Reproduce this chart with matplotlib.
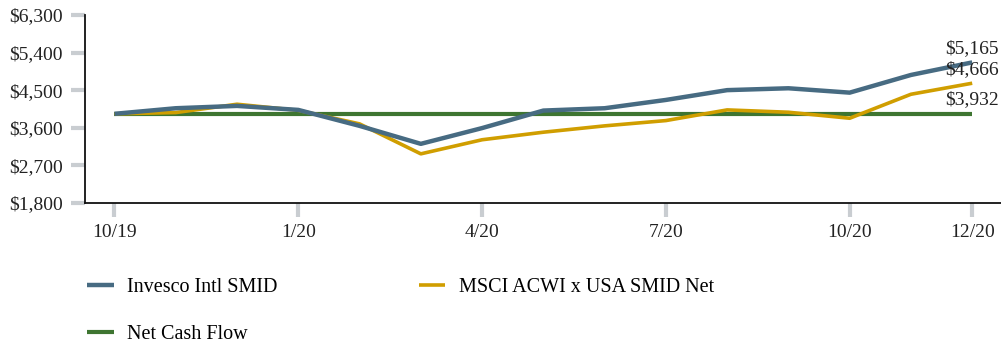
import matplotlib
matplotlib.use("Agg")
import matplotlib.pyplot as plt
from matplotlib.ticker import FuncFormatter

# Monthly values, 10/19 through 12/20
months = ["10/19", "11/19", "12/19", "1/20", "2/20", "3/20", "4/20", "5/20",
          "6/20", "7/20", "8/20", "9/20", "10/20", "11/20", "12/20"]
fund = [3932, 4066, 4122, 4026, 3643, 3212, 3590, 4010, 4066, 4265, 4500,
        4545, 4440, 4864, 5165]
index = [3932, 3962, 4162, 4015, 3691, 2972, 3310, 3491, 3643, 3770, 4026,
         3970, 3826, 4401, 4666]
cash = [3932] * 15

tick_months = ["10/19", "1/20", "4/20", "7/20", "10/20", "12/20"]
y_ticks = [1800, 2700, 3600, 4500, 5400, 6300]

series_names = ["Invesco Intl SMID", "MSCI ACWI x USA SMID Net", "Net Cash Flow"]
colors = {"fund": "#476b82", "index": "#d09e00", "cash": "#3e7531"}

plt.rcParams["font.family"] = ["Liberation Serif", "DejaVu Serif"]

fig = plt.figure(figsize=(10.01, 3.43), dpi=100)
ax = fig.add_axes([0.085, 0.409, 0.915, 0.547])

x = list(range(len(months)))
l_cash, = ax.plot(x, cash, color=colors["cash"], lw=3.0, label=series_names[2],
                  solid_capstyle="butt", zorder=2)
l_index, = ax.plot(x, index, color=colors["index"], lw=2.6, label=series_names[1],
                   solid_capstyle="butt", zorder=3)
l_fund, = ax.plot(x, fund, color=colors["fund"], lw=3.2, label=series_names[0],
                  solid_capstyle="butt", zorder=4)

# End-of-period value labels
for vals in (fund, index, cash):
    ax.annotate(f"${vals[-1]:,}", xy=(x[-1], vals[-1]), xytext=(0, 4),
                textcoords="offset points", ha="center", va="bottom",
                fontsize=14, color="#222222", zorder=5)

ax.set_xlim(-0.48, 14.47)
ax.set_ylim(1800, 6300)
ax.set_yticks(y_ticks)
ax.yaxis.set_major_formatter(FuncFormatter(lambda v, p: f"${v:,.0f}"))
ax.set_xticks([months.index(m) for m in tick_months])
ax.set_xticklabels(tick_months)

for side in ("top", "right"):
    ax.spines[side].set_visible(False)
for side in ("left", "bottom"):
    ax.spines[side].set_color("#111111")
    ax.spines[side].set_linewidth(1.3)

ax.tick_params(axis="both", which="major", length=10, width=3,
               color="#c9cdd1", labelsize=14, labelcolor="#222222")
ax.tick_params(axis="y", pad=6)
ax.tick_params(axis="x", pad=5)

fig.legend(handles=[l_fund, l_cash, l_index],
           labels=[series_names[0], series_names[2], series_names[1]],
           ncol=2, loc="upper left", bbox_to_anchor=(0.087, 0.189),
           frameon=False, fontsize=14.5, handlelength=1.34, handletextpad=0.65,
           labelspacing=1.38, columnspacing=7.0, borderaxespad=0, borderpad=0)

fig.savefig("out.png", dpi=100)
